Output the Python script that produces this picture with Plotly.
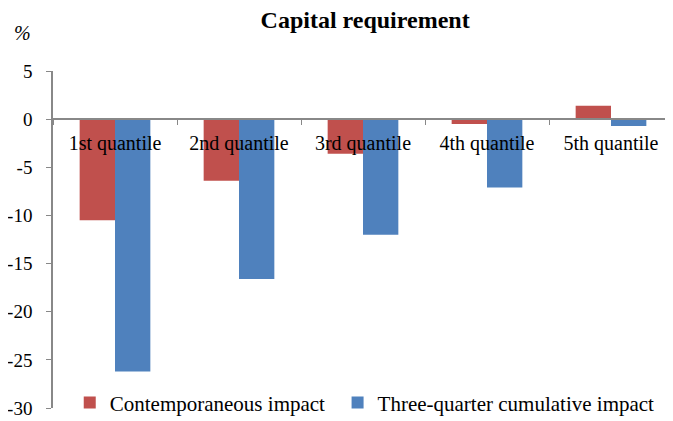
import plotly.graph_objects as go

quantiles = ["1st quantile", "2nd quantile", "3rd quantile", "4th quantile", "5th quantile"]
contemporaneous = [-10.5, -6.4, -3.6, -0.5, 1.4]
cumulative = [-26.2, -16.6, -12.0, -7.1, -0.7]
y_ticks = [5, 0, -5, -10, -15, -20, -25, -30]

RED = "#C0504D"
BLUE = "#4F81BD"
AXIS_GREY = "#888888"
FONT = "Liberation Serif"

fig = go.Figure()
fig.add_trace(go.Bar(
    x=quantiles, y=contemporaneous, name="Contemporaneous impact",
    marker=dict(color=RED, line=dict(width=0)), legend="legend",
))
fig.add_trace(go.Bar(
    x=quantiles, y=cumulative, name="Three-quarter cumulative impact",
    marker=dict(color=BLUE, line=dict(width=0)), legend="legend2",
))

_LEGEND = dict(orientation="h", y=0.015, xanchor="left", yanchor="middle",
               font=dict(family=FONT, size=21), bgcolor="rgba(0,0,0,0)",
               itemwidth=30)

# the page body adds an 8px offset, so the figure is 8px smaller than the window
ymin, ymax = -30, 5
fig.update_layout(
    width=665, height=413,
    template="plotly_white",
    font=dict(family=FONT, size=20, color="black"),
    margin=dict(l=45, r=0, t=63, b=13, autoexpand=False),
    title=dict(text="<b>Capital requirement</b>", xref="container", x=0.537, xanchor="center",
               yref="container", y=0.972, yanchor="middle", font=dict(family=FONT, size=24)),
    barmode="group", bargap=0.43, bargroupgap=0,
    plot_bgcolor="white",
    showlegend=True,
    legend=dict(**_LEGEND, x=0.027),
    legend2=dict(**_LEGEND, x=0.459),
    xaxis=dict(
        anchor="free", position=(0 - ymin) / (ymax - ymin),
        showline=True, linecolor=AXIS_GREY, linewidth=1.5,
        ticks="outside", tickson="boundaries", ticklen=5, tickcolor=AXIS_GREY,
        ticklabelstandoff=6,
        showgrid=False, zeroline=False, tickfont=dict(family=FONT, size=20),
    ),
    yaxis=dict(
        range=[ymin, ymax], tickvals=y_ticks, ticktext=[str(v) for v in y_ticks],
        showline=True, linecolor=AXIS_GREY, linewidth=1.5,
        ticks="outside", ticklen=5, tickcolor=AXIS_GREY,
        ticklabelstandoff=10,
        showgrid=False, zeroline=False, tickfont=dict(family=FONT, size=19),
    ),
    annotations=[dict(text="<i>%</i>", xref="paper", yref="paper", x=-0.05, y=1.113,
                      xanchor="center", yanchor="middle", showarrow=False,
                      font=dict(family=FONT, size=20))],
)

fig.write_html("out.html")
